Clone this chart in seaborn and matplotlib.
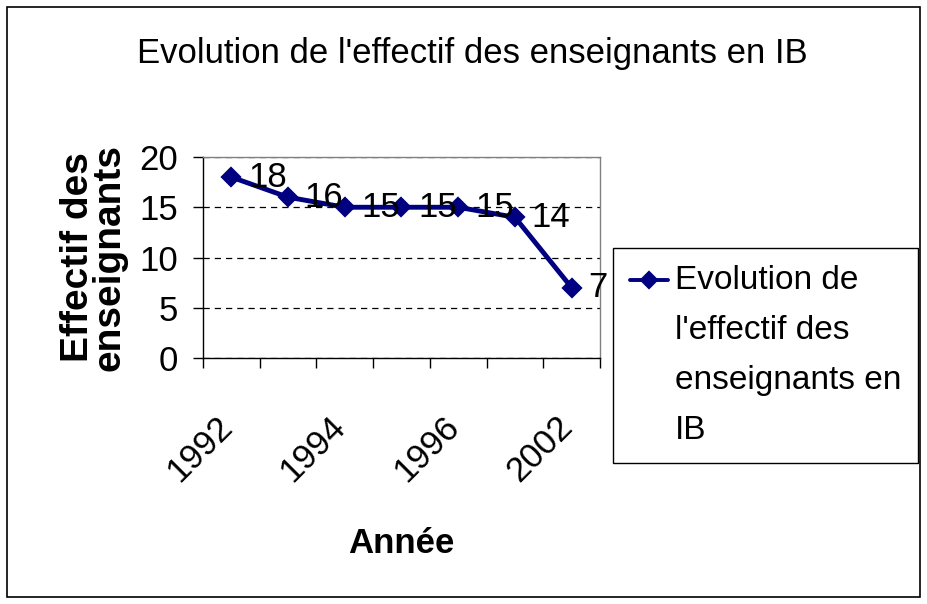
"""
Evolution de l'effectif des enseignants en IB (Excel-style line chart).
"""

import numpy as np
import pandas as pd
import matplotlib
matplotlib.use("Agg")
import matplotlib.pyplot as plt
import matplotlib.patches as mpatches
import matplotlib.transforms as mtransforms
from matplotlib.legend_handler import HandlerLine2D
import seaborn as sns

# data
annees = ["1992", "1993", "1994", "1995", "1996", "1997", "2002"]
effectifs = [18, 16, 15, 15, 15, 14, 7]
y_ticks = [0, 5, 10, 15, 20]
shown_years = ["1992", "1994", "1996", "2002"]

TITLE = "Evolution de l'effectif des enseignants en IB"
SERIES = "Evolution de\nl'effectif des\nenseignants en\nIB"
NAVY = "#000080"

sns.set_theme(style="white")
plt.rcParams["font.family"] = ["Liberation Sans", "DejaVu Sans"]
plt.rcParams.update({"text.color": "black", "axes.labelcolor": "black",
                     "xtick.color": "black", "ytick.color": "black"})

df = pd.DataFrame({"annee": annees, "effectif": effectifs})

fig = plt.figure(figsize=(9.28, 6.04), dpi=100)
ax = fig.add_axes([203 / 928, 1 - 358 / 604, 397 / 928, 201 / 604])

sns.pointplot(data=df, x="annee", y="effectif", color=NAVY, marker="D",
              markersize=8.5, linewidth=3.5, errorbar=None, label=SERIES, ax=ax)
if ax.get_legend() is not None:
    ax.get_legend().remove()

# data labels to the right of each point
for i, v in enumerate(effectifs):
    ax.annotate(str(v), (i, v), xytext=(12, 0), textcoords="offset points",
                va="center", ha="left", fontsize=25, color="black")

ax.set_ylim(0, 20)
ax.set_yticks(y_ticks)
ax.set_xlim(-0.5, len(annees) - 0.5)
ax.yaxis.grid(True, color="black", linestyle=(0, (5, 4)), linewidth=0.9)
ax.set_axisbelow(True)

# category boundary ticks, labels on every other category
ax.set_xticks(np.arange(-0.5, len(annees)), minor=True)
pos = [annees.index(a) for a in shown_years]
ax.set_xticks(pos)
ax.set_xticklabels(shown_years, rotation=45, ha="right", va="top",
                   rotation_mode="anchor", fontsize=25)
ax.tick_params(axis="x", which="major", length=0, pad=36)
ax.tick_params(axis="x", which="minor", length=7, width=1, color="black",
               direction="out", bottom=True)
ax.tick_params(axis="y", length=7, width=1, color="black", direction="out",
               left=True, labelsize=25, pad=11)
# nudge rotated year labels so they end at the point (after tick_params)
shift = mtransforms.ScaledTranslation(-0.16, -0.02, fig.dpi_scale_trans)
for lab in ax.get_xticklabels():
    lab.set_transform(lab.get_transform() + shift)

for side in ["left", "bottom"]:
    ax.spines[side].set_color("black")
    ax.spines[side].set_linewidth(1)
for side in ["top", "right"]:
    ax.spines[side].set_color("#808080")
    ax.spines[side].set_linewidth(1)

ax.set_xlabel("Année", fontsize=25, fontweight="bold")
ax.set_ylabel("Effectif des\nenseignants", fontsize=28, fontweight="bold",
              linespacing=0.85)
ax.xaxis.set_label_coords(0.5, -0.84)
ax.yaxis.set_label_coords(-0.19, 0.5)

fig.suptitle(TITLE, x=0.509, y=1 - 37 / 604, va="top", fontsize=25)

LEG_FS = 24
LEG_LS = 1.8


class TopLineHandler(HandlerLine2D):
    # put the marker next to the first line of the wrapped label
    def create_artists(self, legend, orig_handle, xdescent, ydescent,
                       width, height, fontsize, trans):
        arts = super().create_artists(legend, orig_handle, xdescent, ydescent,
                                      width, height, fontsize, trans)
        dy = 1.5 * LEG_LS * fontsize * 0.92 - 5
        for a in arts:
            a.set_ydata(np.asarray(a.get_ydata()) + dy)
            a.set_linewidth(2.8)
        return arts


handles, labels = ax.get_legend_handles_labels()
leg = fig.legend(handles, labels, loc="upper left",
                 bbox_to_anchor=(613 / 928, 1 - 248 / 604),
                 frameon=True, fancybox=False, framealpha=1,
                 edgecolor="black", fontsize=LEG_FS, handlelength=1.15,
                 handletextpad=0.2, borderpad=0.5, borderaxespad=0,
                 markerscale=0.8,
                 handler_map={handles[0]: TopLineHandler()})
leg.get_frame().set_linewidth(1)
for t in leg.get_texts():
    t.set_linespacing(LEG_LS)

# outer chart border
fig.patches.append(mpatches.Rectangle((7 / 928, 7 / 604), 913 / 928, 590 / 604,
                                      transform=fig.transFigure, fill=False,
                                      edgecolor="black", linewidth=1.2))

fig.savefig("out.png", dpi=100)
